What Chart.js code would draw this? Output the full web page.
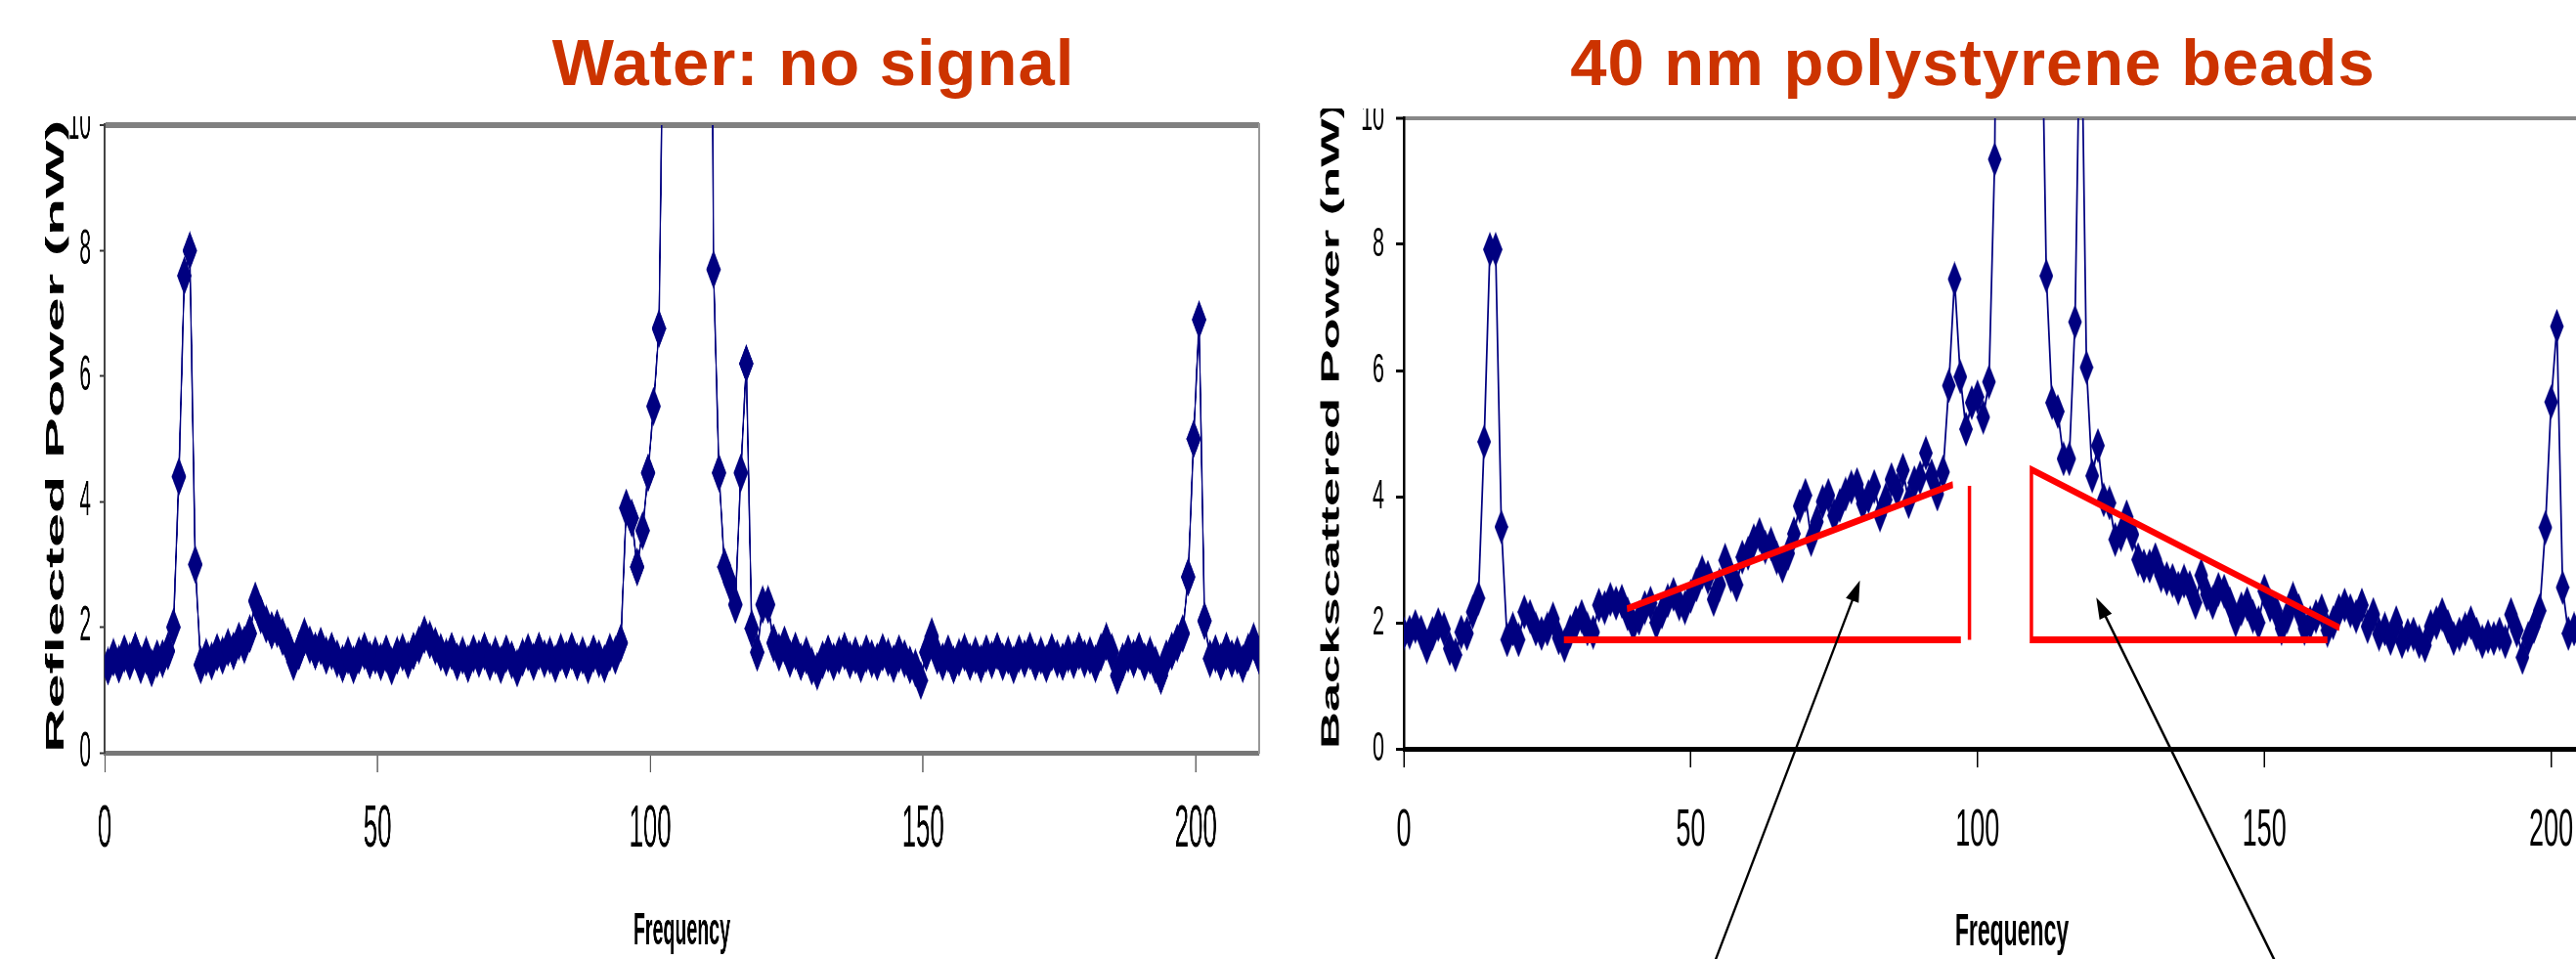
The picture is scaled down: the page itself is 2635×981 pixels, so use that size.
<!DOCTYPE html>
<html>
<head>
<meta charset="utf-8">
<title>Water vs 40 nm beads - power spectra</title>
<script src="https://cdn.jsdelivr.net/npm/chart.js@4.4.1/dist/chart.umd.min.js"></script>
<style>
  html, body { margin: 0; padding: 0; background: #fff; width: 2635px; height: 981px; overflow: hidden; position: relative; }
  .slideTitle {
    position: absolute; top: 30px; transform: translateX(-50%);
    font: bold 67px "Liberation Sans", Arial, sans-serif; line-height: 67px;
    letter-spacing: 1px; color: #cc3300; white-space: nowrap;
  }
  canvas { position: absolute; }
</style>
</head>
<body>
<div class="slideTitle" style="left:832px">Water: no signal</div>
<div class="slideTitle" style="left:2018px">40 nm polystyrene beads</div>
<!-- canvases are rendered wider than shown, so text and markers come out condensed like the slide -->
<canvas id="waterChart" width="3168" height="862" style="left:0;top:119px;width:1320px;height:862px"></canvas>
<canvas id="beadsChart" width="2800" height="870" style="left:1320px;top:111px;width:1400px;height:870px"></canvas>
<script>
// frequency bins are evenly spaced, one value per bin
const waterFreqStart = 0.6;
const beadsFreqStart = 0;
const freqStep = 1;

// reflected power, water only (nW)
const waterPower = [
  1.38, 1.52, 1.41, 1.58, 1.46, 1.62, 1.40, 1.55, 1.35, 1.50, 1.50, 1.62,
  2.0, 4.4, 7.6, 8.0, 3.0, 1.4,
  1.52, 1.46, 1.60, 1.55, 1.68, 1.62, 1.78, 1.72, 1.90,
  2.42, 2.20, 2.05, 1.95, 1.98, 1.85, 1.70, 1.45, 1.62,
  1.85, 1.72, 1.62, 1.70, 1.55, 1.62, 1.50, 1.42, 1.55, 1.40, 1.55, 1.62, 1.48,
  1.55, 1.45, 1.58, 1.38, 1.55, 1.60, 1.48, 1.62, 1.72, 1.88, 1.80, 1.70,
  1.60, 1.52, 1.62, 1.45, 1.55, 1.42, 1.58, 1.50, 1.62, 1.45, 1.55, 1.40, 1.58,
  1.48, 1.35, 1.52, 1.60, 1.45, 1.62, 1.50, 1.55, 1.42, 1.60, 1.48, 1.62, 1.45,
  1.55, 1.40, 1.58, 1.50, 1.42, 1.60, 1.55, 1.75,
  3.9, 3.74, 2.96, 3.54, 4.46, 5.52, 6.76,
  13.5, 30, 55, 80, 95, 90, 70, 45, 25,
  7.7, 4.46, 2.96, 2.72, 2.36, 4.46, 6.2, 1.98, 1.6, 2.36, 2.36,
  1.75, 1.60, 1.72, 1.50, 1.62, 1.45, 1.55, 1.38, 1.30, 1.48, 1.58, 1.45, 1.55,
  1.62, 1.48, 1.55, 1.42, 1.58, 1.50, 1.45, 1.60, 1.52, 1.42, 1.58, 1.50, 1.40,
  1.35, 1.15, 1.60, 1.85, 1.55, 1.45, 1.58, 1.40, 1.52, 1.60, 1.45, 1.55, 1.42,
  1.58, 1.48, 1.62, 1.45, 1.55, 1.40, 1.58, 1.50, 1.62, 1.45, 1.55, 1.42, 1.60,
  1.50, 1.45, 1.58, 1.48, 1.62, 1.50, 1.55, 1.42, 1.60, 1.77, 1.60, 1.23, 1.45,
  1.58, 1.50, 1.62, 1.45, 1.55, 1.40, 1.23, 1.50, 1.62, 1.75,
  1.9, 2.8, 5.0, 6.9, 2.1, 1.5,
  1.58, 1.45, 1.62, 1.50, 1.55, 1.42, 1.60, 1.77, 1.55
];

// backscattered power, 40 nm polystyrene beads (nW)
const beadsPower = [
  1.83, 1.85, 1.94, 1.85, 1.62, 1.83, 1.97, 1.90, 1.59, 1.49,
  1.85, 1.83, 2.17, 2.39, 4.87, 7.92, 7.92, 3.52, 1.73, 1.90,
  1.73, 2.17, 2.10, 1.90, 1.83, 1.90, 2.06, 1.76, 1.64, 1.86,
  2.00, 2.10, 1.90, 1.85, 2.28, 2.24, 2.37, 2.31, 2.34, 2.14,
  1.97, 2.07, 2.24, 2.31, 2.00, 2.17, 2.35, 2.45, 2.30, 2.24,
  2.42, 2.60, 2.80, 2.72, 2.37, 2.60, 2.99, 2.75, 2.60, 3.04,
  3.10, 3.30, 3.40, 3.20, 3.25, 3.03, 2.90, 3.10, 3.41, 3.85,
  4.02, 3.32, 3.60, 3.92, 4.02, 3.70, 3.86, 4.04, 4.15, 4.19,
  3.89, 4.00, 4.16, 3.71, 3.95, 4.27, 4.10, 4.42, 3.92, 4.22,
  4.30, 4.69, 4.33, 4.04, 4.39, 5.76, 7.45, 5.90, 5.07, 5.49,
  5.58, 5.26, 5.82, 9.35, 21, 40, 70, 90, 70, 45,
  25, 13, 7.50, 5.49, 5.35, 4.60, 4.60, 6.77, 12.5, 6.05,
  4.33, 4.81, 3.95, 3.90, 3.32, 3.40, 3.68, 3.40, 3.00, 2.90,
  2.90, 3.00, 2.75, 2.70, 2.67, 2.55, 2.66, 2.56, 2.32, 2.75,
  2.45, 2.32, 2.53, 2.50, 2.30, 2.04, 2.22, 2.30, 2.10, 2.00,
  2.50, 2.28, 2.19, 1.91, 2.10, 2.38, 2.19, 1.91, 2.00, 2.10,
  2.19, 1.88, 2.00, 2.19, 2.28, 2.19, 2.10, 2.28, 1.94, 2.13,
  1.82, 1.90, 1.75, 2.00, 1.70, 1.80, 1.82, 1.70, 1.64, 1.94,
  2.00, 2.13, 1.94, 1.75, 1.82, 1.90, 2.00, 1.82, 1.70, 1.78,
  1.75, 1.82, 1.70, 2.13, 1.88, 1.45, 1.75, 1.94, 2.19, 3.51,
  5.50, 6.70, 2.56, 1.83, 1.90, 1.80, 1.85, 1.75, 1.90, 1.80,
  1.85, 1.75, 1.82
];

const freqTicks = [0, 50, 100, 150, 200];
const powerTicks = [0, 2, 4, 6, 8, 10];

// red guide lines on the bead spectrum, [frequency, power]
const guideLeftBase = [[27.9, 1.73], [97.1, 1.73]];
const guideLeftEdge = [[98.6, 1.73], [98.6, 4.17]];
const guideLeftSlope = [[38.9, 2.22], [95.7, 4.19]];
const guideRight = [[161, 1.73], [109.4, 1.73], [109.4, 4.43], [163.1, 1.92]];

// black arrows pointing into the two shaded regions, [tail, tip]
const arrows = [
  [[53.9, -3.45], [79.5, 2.67]],
  [[152.3, -3.45], [120.7, 2.4]]
];

const FONT = '"Liberation Sans", Arial, sans-serif';
Chart.defaults.font.family = FONT;
Chart.defaults.color = '#000';

// tall diamond marker, squeeze = how much the canvas gets narrowed on screen
function diamond(wScreen, h, squeeze) {
  const c = document.createElement('canvas');
  c.width = Math.round(wScreen * squeeze);
  c.height = h;
  const g = c.getContext('2d');
  g.fillStyle = '#000080';
  g.beginPath();
  g.moveTo(c.width / 2, 0);
  g.lineTo(c.width, c.height / 2);
  g.lineTo(c.width / 2, c.height);
  g.lineTo(0, c.height / 2);
  g.closePath();
  g.fill();
  return c;
}

function toPoints(values, start) {
  return values.map((v, i) => ({ x: start + i * freqStep, y: v }));
}

function guide(pairs) {
  return {
    data: pairs.map(p => ({ x: p[0], y: p[1] })),
    borderColor: '#ff0000',
    borderWidth: 7,
    pointRadius: 0,
    order: 0
  };
}

// no extra room for half labels at the axis ends, the plot box is placed by hand
function noEdgePadding(s) {
  s.paddingTop = 0;
  s.paddingBottom = 0;
  s.paddingLeft = 0;
  s.paddingRight = 0;
}

// arrows are drawn after the datasets so they can run below the plot
const arrowPlugin = {
  id: 'arrows',
  afterDatasetsDraw(chart, args, opts) {
    if (!opts.list) return;
    const ctx = chart.ctx;
    const xs = chart.scales.x, ys = chart.scales.y;
    const sq = opts.squeeze;
    ctx.save();
    ctx.strokeStyle = '#000';
    ctx.fillStyle = '#000';
    ctx.lineWidth = opts.width;
    opts.list.forEach(a => {
      const x0 = xs.getPixelForValue(a[0][0]), y0 = ys.getPixelForValue(a[0][1]);
      const x1 = xs.getPixelForValue(a[1][0]), y1 = ys.getPixelForValue(a[1][1]);
      // work out the head on screen, then stretch back
      const dx = (x1 - x0) / sq, dy = y1 - y0;
      const len = Math.hypot(dx, dy);
      const ux = dx / len, uy = dy / len;
      const headLen = 22, headW = 7;
      const bx = x1 / sq - ux * headLen, by = y1 - uy * headLen;
      ctx.beginPath();
      ctx.moveTo(x0, y0);
      ctx.lineTo((bx + ux * 4) * sq, by + uy * 4);
      ctx.stroke();
      ctx.beginPath();
      ctx.moveTo(x1, y1);
      ctx.lineTo((bx - uy * headW) * sq, by + ux * headW);
      ctx.lineTo((bx + uy * headW) * sq, by - ux * headW);
      ctx.closePath();
      ctx.fill();
    });
    ctx.restore();
  }
};

function topLine(color, width) {
  return {
    drawOnChartArea: true,
    color: c => (c.tick && c.tick.value === 10 ? color : 'rgba(0,0,0,0)'),
    lineWidth: c => (c.tick && c.tick.value === 10 ? width : 1)
  };
}

// water chart
const waterSq = 2.4;
new Chart(document.getElementById('waterChart'), {
  type: 'line',
  data: {
    datasets: [{
      data: toPoints(waterPower, waterFreqStart),
      borderColor: '#000080',
      borderWidth: 4,
      pointStyle: diamond(15, 40, waterSq),
      pointRadius: 5,
      tension: 0,
      order: 1
    }]
  },
  options: {
    responsive: false,
    animation: false,
    events: [],
    layout: { padding: { left: 0, top: 2, right: 77, bottom: 0 } },
    plugins: { legend: { display: false }, tooltip: { enabled: false } },
    scales: {
      x: {
        type: 'linear', min: 0, max: 211.6,
        afterBuildTicks: s => { s.ticks = freqTicks.map(v => ({ value: v })); },
        afterFit: s => { s.height = 211; noEdgePadding(s); },
        ticks: { maxRotation: 0, autoSkip: false, padding: 22, font: { size: 62 } },
        grid: { drawOnChartArea: false, tickLength: 20, tickColor: '#333', tickWidth: 2.4 },
        border: { color: '#777', width: 5 },
        title: {
          display: true, text: 'Frequency',
          font: { size: 47, weight: 'bold', lineHeight: 1 },
          padding: { top: 0, bottom: 4 }
        }
      },
      y: {
        min: 0, max: 10,
        afterBuildTicks: s => { s.ticks = powerTicks.map(v => ({ value: v })); },
        afterFit: s => { s.width = 257; noEdgePadding(s); },
        ticks: { padding: 22, font: { size: 50 } },
        grid: Object.assign(topLine('#808080', 6), { tickLength: 12, tickColor: '#333', tickWidth: 2 }),
        border: { color: '#444', width: 4 },
        title: {
          display: true, text: 'Reflected Power (nW)', align: 'start',
          font: { size: 63, weight: 'bold', lineHeight: 1 },
          padding: { top: 107, bottom: 0 }
        }
      },
      yR: {
        position: 'right', display: true, min: 0, max: 10,
        afterFit: s => { s.width = 0; noEdgePadding(s); },
        grid: { display: false },
        ticks: { display: false },
        border: { color: '#999', width: 5 }
      }
    }
  }
});

// beads chart
const beadsSq = 2.0;
new Chart(document.getElementById('beadsChart'), {
  type: 'line',
  data: {
    datasets: [
      guide(guideLeftBase),
      guide(guideLeftEdge),
      guide(guideLeftSlope),
      guide(guideRight),
      {
        data: toPoints(beadsPower, beadsFreqStart),
        borderColor: '#000080',
        borderWidth: 3.5,
        pointStyle: diamond(14, 36, beadsSq),
        pointRadius: 5,
        tension: 0,
        order: 1
      }
    ]
  },
  plugins: [arrowPlugin],
  options: {
    responsive: false,
    animation: false,
    events: [],
    layout: { padding: { left: 0, top: 10, right: 80, bottom: 0 } },
    plugins: {
      legend: { display: false },
      tooltip: { enabled: false },
      arrows: { list: arrows, squeeze: beadsSq, width: 4 }
    },
    scales: {
      x: {
        type: 'linear', min: 0, max: 212,
        afterBuildTicks: s => { s.ticks = freqTicks.map(v => ({ value: v })); },
        afterFit: s => { s.height = 215; noEdgePadding(s); },
        ticks: { maxRotation: 0, autoSkip: false, padding: 33, font: { size: 54 } },
        grid: { drawOnChartArea: false, tickLength: 19, tickColor: '#000', tickWidth: 3 },
        border: { color: '#000', width: 5 },
        title: {
          display: true, text: 'Frequency',
          font: { size: 46, weight: 'bold', lineHeight: 1 },
          padding: { top: 0, bottom: 4 }
        }
      },
      y: {
        min: 0, max: 10,
        afterBuildTicks: s => { s.ticks = powerTicks.map(v => ({ value: v })); },
        afterFit: s => { s.width = 232; noEdgePadding(s); },
        ticks: { padding: 24, font: { size: 43 } },
        grid: Object.assign(topLine('#888888', 4), { tickLength: 16, tickColor: '#000', tickWidth: 3 }),
        border: { color: '#000', width: 5 },
        title: {
          display: true, text: 'Backscattered Power (nW)', align: 'start',
          font: { size: 52.5, weight: 'bold', lineHeight: 1 },
          padding: { top: 58, bottom: 0 }
        }
      }
    }
  }
});
</script>
</body>
</html>
